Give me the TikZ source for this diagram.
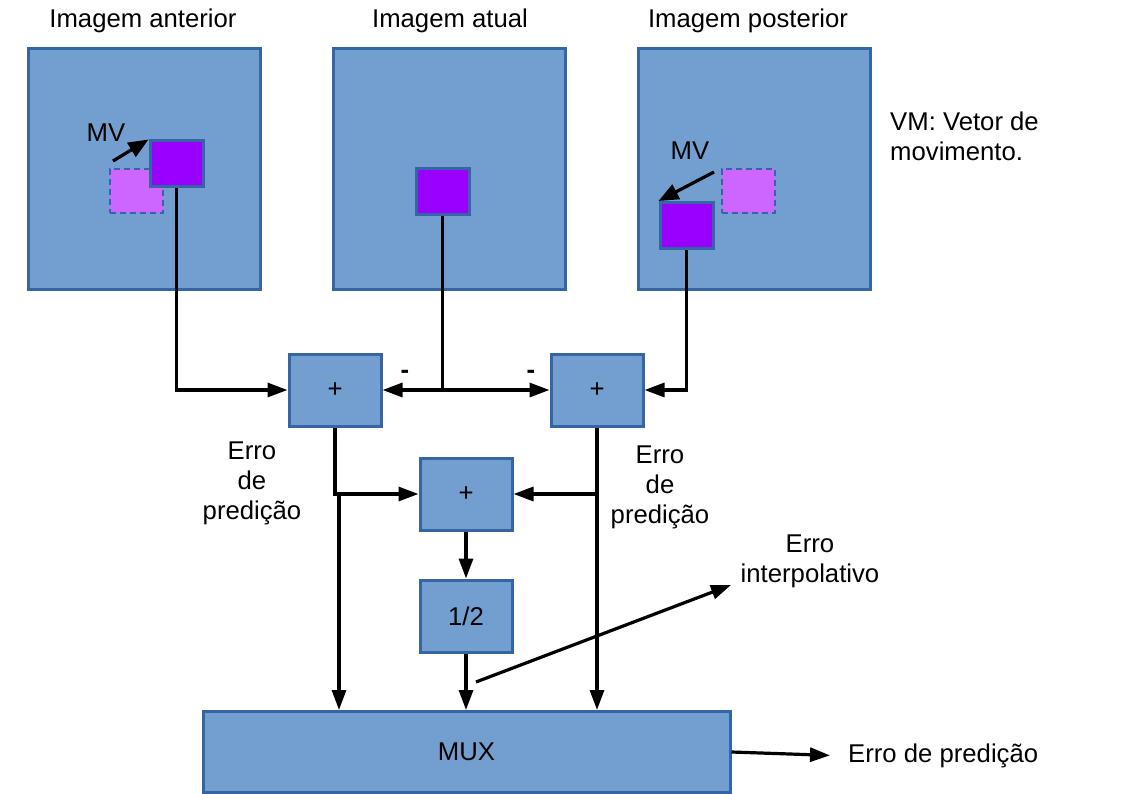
\documentclass[tikz,border=0pt]{standalone}
\usepackage{fontspec}
\setmainfont{Liberation Sans}
\usepackage{xcolor}
\usetikzlibrary{arrows.meta}

\definecolor{boxfill}{HTML}{729FCF}
\definecolor{boxline}{HTML}{3465A4}
\definecolor{blkfill}{HTML}{9900FF}
\definecolor{refill}{HTML}{CC66FF}

\tikzset{
  frame/.style={draw=boxline, fill=boxfill, line width=3pt, minimum width=232pt, minimum height=240pt, inner sep=0pt},
  opbox/.style={draw=boxline, fill=boxfill, line width=3pt, minimum width=92pt, minimum height=72pt, inner sep=0pt},
  blk/.style={draw=boxline, fill=blkfill, line width=3pt, minimum width=53pt, minimum height=46pt, inner sep=0pt},
  refblk/.style={draw=boxline, fill=refill, line width=2.5pt, dash pattern=on 6pt off 4pt, minimum width=53pt, minimum height=44pt, inner sep=0pt},
  wire/.style={line width=3.2pt, black},
  flow/.style={wire, -{Triangle[length=20pt,width=14pt]}},
  mvarrow/.style={line width=3.2pt, -{Triangle[length=20pt,width=16pt]}},
  txt/.style={font=\fontsize{25.7}{30}\selectfont, inner sep=0pt, align=center}
}

\begin{document}
\begin{tikzpicture}[x=1pt, y=-1pt]
            \useasboundingbox (0,0) rectangle (1123,794);

            % pictures
            \node[frame] (prev) at (144,169) {};
            \node[frame] (cur) at (449,169) {};
            \node[frame] (next) at (754,169) {};

            \node[txt] (tprev) at (143,21) {Imagem anterior};
            \node[txt] (tcur) at (450,21) {Imagem atual};
            \node[txt] (tnext) at (748,21) {Imagem posterior};

            \node[txt, align=left, anchor=west] (note) at (890,136) {VM: Vetor de\\movimento.};

            % blocks
            \node[refblk] (pref) at (136.5,191) {};
            \node[blk] (pb) at (176.5,164) {};
            \node[blk] (cb) at (442.5,191.5) {};
            \node[refblk] (nref) at (748.5,191) {};
            \node[blk] (nb) at (686.5,225.5) {};

            \node[txt] (mv1) at (106,133) {MV};
            \node[txt] (mv2) at (690,151) {MV};
            \coordinate (mv1a) at (113,161);
            \coordinate (mv2a) at (714,172);
            \draw[mvarrow] (mv1a) -- (pb.north west);
            \draw[mvarrow] (mv2a) -- (nb.north west);

            % operators
            \node[opbox, txt] (p1) at (335,390) {+};
            \node[opbox, txt] (p2) at (597,390) {+};
            \node[opbox, txt] (p3) at (466,494) {+};
            \node[opbox, txt] (half) at (466,616) {1/2};
            \node[draw=boxline, fill=boxfill, line width=3pt, minimum width=527pt, minimum height=81pt, txt] (mux) at (466.5,752) {MUX};

            \node[txt] (m1) at (405,374) {\textbf{-}};
            \node[txt] (m2) at (531,374) {\textbf{-}};

            \draw[flow] (pb.south) |- (p1.west);
            \draw[flow] (nb.south) |- (p2.east);
            \coordinate (jc) at (cb.south |- p1.center);
            \draw[wire] (cb.south) -- (jc);
            \draw[flow] (jc) -- (p1.east);
            \draw[flow] (jc) -- (p2.west);

            \coordinate (j1) at (p1.south |- p3.center);
            \coordinate (j2) at (p2.south |- p3.center);
            \draw[flow] (p1.south) |- (p3.west);
            \draw[flow] (p2.south) |- (p3.east);
            \draw[flow] ([xshift=4pt]j1) -- ([xshift=4pt]j1 |- mux.north);
            \draw[flow] (j2) -- (j2 |- mux.north);
            \draw[flow] (p3) -- (half);
            \draw[flow] (half) -- (half.south |- mux.north);

            \node[txt] (e1) at (252,483) {Erro\\de\\predição};
            \node[txt] (e2) at (660,487) {Erro\\de\\predição};

            \coordinate (tap) at (476,682);
            \coordinate (interp) at (731,585);
            \draw[flow] (tap) -- (interp);
            \node[txt] (ei) at (810,561) {Erro\\interpolativo};

            \node[txt, anchor=west] (eout) at (848,756) {Erro de predição};
            \draw[flow, shorten >=18pt] (mux.east) -- (eout.west);
        \end{tikzpicture}
\end{document}
